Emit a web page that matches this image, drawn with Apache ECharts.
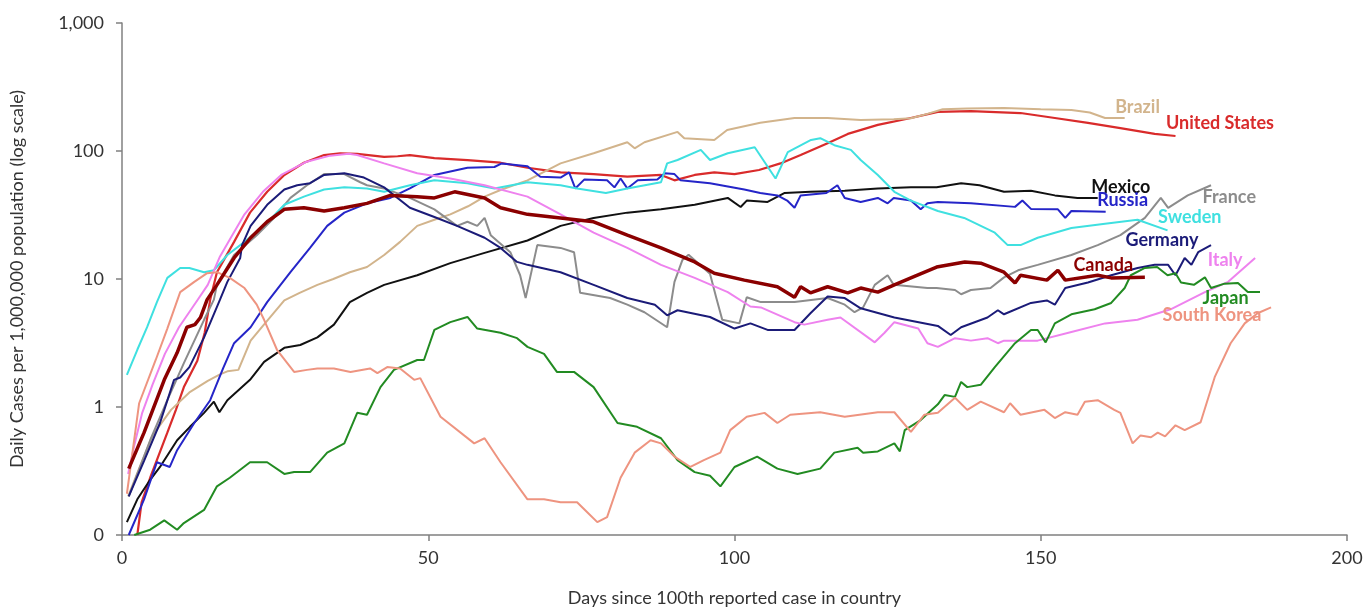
<!DOCTYPE html>
<html><head><meta charset="utf-8">
<script src="https://cdn.jsdelivr.net/npm/echarts@6/dist/echarts.min.js"></script>
<style>html,body{margin:0;padding:0;background:#fff}#c{width:1364px;height:609px}</style>
</head><body><div id="c"></div>
<script>
// ---- data ----
const xTicks = [0, 50, 100, 150, 200];
const yTickValues = [0.1, 1, 10, 100, 1000];
const yTickLabels = ['0', '1', '10', '100', '1,000'];

const countries = ['United States','Brazil','Mexico','Russia','France','Sweden','Germany','Canada','Italy','Japan','South Korea'];

const unitedStates = [[2.5,0.1],[3.2,0.18],[4.6,0.28],[6,0.42],[7.4,0.63],[8.8,0.95],[10.1,1.43],[12.3,2.3],[13.5,3.8],[14.4,6.9],[15.5,11.3],[18.3,19.5],[20.9,33],[23.7,48],[26.5,65],[29.7,81],[33,93],[35.6,96],[38.4,95],[42.8,90],[45,91],[47,93],[51,88],[56.4,85],[61.8,81],[66.2,74],[71.6,68],[77,66],[82.5,63],[88,65],[90.2,59],[93.5,65],[96.7,68],[100,66],[104,71],[107.5,80],[110.8,93],[115.2,115],[118.5,136],[123.4,160],[128.8,181],[133.2,202],[138.6,205],[146.7,198],[152.3,181],[157.7,166],[163,151],[168.6,136],[172,131]];

const brazil = [[1,0.2],[3,0.35],[5,0.6],[8,0.95],[11,1.3],[14,1.6],[16,1.8],[17.2,1.9],[19,1.95],[21,3.3],[23,4.3],[26.5,6.8],[29,7.8],[31.9,9.0],[34.5,10],[37.2,11.3],[40,12.4],[42.8,15.4],[45.4,19.5],[48.2,26],[51,29],[53.6,32],[56.5,37],[59.2,44],[62,50],[66.2,59],[71.6,80],[77,96],[82.5,117],[83.7,105],[85.3,117],[90.7,141],[91.8,126],[96.7,122],[98.8,146],[104.2,166],[109.8,181],[115.2,181],[120.6,175],[126,177],[128.8,180],[131.5,195],[134,212],[138,215],[144,217],[150,212],[155,209],[158,200],[160.5,181],[163.7,181]];

const mexico = [[0.8,0.126],[2.5,0.19],[4.6,0.27],[6.2,0.34],[9,0.55],[11.1,0.7],[13.4,0.9],[15,1.1],[15.9,0.91],[17.2,1.13],[20.9,1.63],[23.2,2.25],[26.5,2.9],[29.1,3.05],[31.9,3.5],[34.6,4.4],[37.2,6.6],[40,7.8],[42.8,9.0],[48.2,10.7],[53.6,13.3],[59.2,16],[66.2,20],[71.6,26],[77,30],[82.5,33],[88,35],[93.5,38],[98.9,43],[101,36.5],[102,41],[105.4,40],[108.2,47],[112.4,48],[118,49],[123.4,51],[128.8,52],[133,52],[137,56],[140,54],[144,48],[148.4,49],[152.3,45],[156,43],[159.3,43]];

const russia = [[1.1,0.1],[3.6,0.19],[5.7,0.37],[7.8,0.34],[9,0.46],[11.8,0.75],[14.4,1.13],[16.5,2.0],[18.3,3.15],[21,4.2],[23.7,6.6],[27.5,11.3],[30.7,17.5],[33.5,26],[36.3,33],[40,39],[43.8,43],[47,51],[51,65],[56.4,74],[60.8,75],[62,80],[66.2,76],[68.3,63],[71.6,62],[73,68],[74,51],[75.5,60],[79.2,59],[80.4,52],[81.4,61],[82.5,51],[84.2,59],[87.4,60],[88.6,67],[90.2,66],[91.2,59],[96,56],[101.6,50],[104.2,47],[107,45],[108.6,41],[109.8,36],[110.8,45],[115,47],[116.8,54],[118,43],[120.6,40],[123.4,43],[125,39],[126,43],[128.8,41],[130.4,35],[131.5,39],[133.2,40],[138.6,39],[145.8,36.6],[147,41],[148.4,35.3],[152.8,35],[154,30],[155,34],[160.6,33.5]];

const france = [[1.1,0.2],[4.6,0.55],[7.4,1.13],[10.1,2.2],[13.4,4.8],[15,6.9],[15.5,9],[18.3,15.4],[22,22],[24.8,30],[27.5,43],[30.2,54],[33,66],[36.3,66],[38.9,57],[40,54],[42.8,51],[47,43],[51,35],[54.7,26],[56.4,28],[58,26],[59.2,30],[60.2,22],[63.4,16.2],[65,10.7],[65.9,7.1],[67.8,18.4],[71.6,17.5],[73.8,16.2],[74.8,7.8],[79.7,7.1],[82.5,6.3],[85.3,5.5],[89,4.2],[90.2,9.5],[91.5,14.1],[92.5,15.5],[96,11],[97,7.2],[98,4.8],[100.8,4.5],[102,7.2],[104.3,6.6],[109.8,6.6],[115.2,7.1],[118,6.3],[119.6,5.5],[121,6.0],[122.9,9.0],[125,10.7],[126,9.0],[131.5,8.5],[133,8.5],[136,8.2],[137,7.6],[138.6,8.2],[141.8,8.5],[144,10.3],[146.3,11.7],[149.5,12.9],[155,15.4],[159.3,18.4],[163,22],[167,30],[169.6,43],[170.8,36],[174,45],[177.8,54]];

const sweden = [[0.8,1.78],[2.5,2.8],[4.1,4.2],[5.7,6.6],[7.4,10.2],[9.5,12.2],[11,12.2],[13.4,11.3],[15,11.7],[17.2,15.4],[20,19.5],[23.2,26],[26.5,38],[29.7,44],[33,50],[36.3,52],[40,51],[42.8,48],[47,54],[51,59],[56.4,56],[60.8,51],[66.2,57],[71.6,54],[74.3,51],[79,47],[82.5,51],[88,57],[89,80],[90.7,85],[94.5,102],[96,85],[98.9,96],[103.3,107],[106.7,61],[108.7,98],[112.5,122],[114,126],[116.3,111],[119,102],[120.6,85],[123.4,65],[126.1,48],[128.8,41],[133.2,34],[137.5,30],[142.5,23],[144.6,18.4],[146.7,18.4],[149.5,21],[155,25],[160.5,27],[165.8,29],[170.7,24]];

const germany = [[1.1,0.2],[3.6,0.38],[6.2,0.75],[8.5,1.63],[9.5,1.7],[11,2.05],[13.4,3.5],[16,6.9],[17.2,9.5],[19.3,14.6],[19.6,18.4],[21,26],[23.7,38],[26.5,50],[28.6,54],[30.7,56],[33,65],[36.3,67],[39.5,62],[42.8,52],[47,36],[51,30.5],[54.7,26],[59.2,21],[61.8,17.5],[64.5,13.6],[66.2,12.9],[71.6,11.3],[77,9.0],[82.5,7.1],[87,6.3],[89,5.2],[90.7,5.7],[96,5.05],[100,4.1],[102.6,4.5],[105.4,4.0],[109.8,4.0],[112.4,5.4],[115.2,7.3],[118,7.1],[120.6,5.9],[126.1,5.0],[133.2,4.3],[135.3,3.65],[137,4.2],[141.3,5.0],[143,5.7],[144,5.3],[148.4,6.5],[151,6.8],[152.3,6.3],[154,8.5],[157.7,9.4],[161.5,10.7],[165.8,12.2],[168.6,12.9],[170.8,12.9],[172,10.7],[173.5,14.6],[174.6,12.9],[175.7,16.2],[177.8,18.4]];

const canada = [[1.1,0.33],[3.6,0.63],[6.9,1.63],[9,2.65],[10.6,4.2],[11.9,4.4],[12.8,5.0],[13.9,6.9],[15.5,9.0],[18.3,14.6],[21,21],[23.7,28],[26.5,35],[29.7,36],[33,34],[36.3,36],[40,39],[43.8,45],[48.2,44],[51,43],[54.3,48],[59.2,43],[61.8,36],[66.2,32],[71.6,30],[77,28],[82.5,22],[88,17.5],[93.5,13.6],[96.7,11.1],[101.6,9.8],[107,8.7],[109.8,7.2],[110.8,8.7],[112.4,7.8],[115.2,8.7],[118.5,7.8],[120.6,8.5],[123.4,7.9],[126.1,9.0],[128.8,10.2],[133,12.4],[137.6,13.6],[140.2,13.3],[144,11.3],[145.8,9.3],[146.7,10.7],[151,9.8],[152.8,11.7],[154,9.8],[159.3,10.7],[161.5,10.2],[167,10.3]];

const italy = [[1,0.3],[2,0.5],[3.3,0.9],[5,1.5],[7,2.6],[9.3,4.2],[12,6.5],[14,9],[16,15],[18,22],[20,32],[23,48],[26,65],[30,82],[34,92],[37,95],[38.4,93],[42.8,80],[48.2,67],[53.6,61],[59.2,54],[66.2,44],[71.6,32],[77,23],[82.5,17.5],[88,12.9],[93.5,10.2],[98.9,7.9],[102.6,6.1],[104.3,6.0],[109.8,4.6],[111.4,4.4],[115.2,4.8],[117.3,5.0],[122.9,3.2],[124.5,3.8],[126.1,4.6],[130,4.1],[131.5,3.15],[133.2,2.95],[136,3.45],[138.6,3.3],[141.3,3.45],[143,3.15],[144,3.3],[149.5,3.3],[155,3.85],[160.5,4.5],[165.8,4.8],[171.2,5.8],[176.8,7.9],[180.6,9.5],[185,14.6]];

const japan = [[2,0.1],[4.6,0.11],[6.9,0.13],[9,0.11],[10.1,0.124],[13.4,0.157],[15.5,0.24],[17.6,0.28],[20.9,0.37],[23.7,0.37],[26.5,0.3],[28.1,0.31],[30.7,0.31],[33.5,0.44],[36.3,0.52],[38.4,0.9],[40,0.87],[42.2,1.43],[44.4,1.95],[48.2,2.33],[49.3,2.33],[51,4.0],[53.6,4.6],[56.4,5.05],[58,4.1],[61.8,3.8],[64.5,3.45],[66.2,2.95],[68.9,2.6],[71,1.88],[73.8,1.88],[77,1.43],[80.9,0.75],[84.1,0.7],[88,0.57],[90.7,0.385],[93.5,0.31],[96,0.29],[97.7,0.24],[100,0.34],[103.7,0.41],[107,0.33],[110.3,0.3],[114,0.33],[116.3,0.44],[120.1,0.48],[121,0.44],[123.4,0.45],[126.1,0.52],[127,0.45],[127.8,0.66],[130.4,0.79],[133.2,1.05],[134.3,1.24],[136,1.2],[137,1.57],[138,1.43],[140.2,1.49],[142.5,2.05],[145.8,3.15],[148.4,4.0],[149.5,4.0],[150.8,3.2],[152.3,4.5],[155,5.3],[158.8,5.8],[161.5,6.5],[163.7,8.5],[164.7,10.7],[167,12.2],[169,12.4],[170.7,10.7],[172,11.1],[172.9,9.4],[175,9.0],[176.8,10.3],[177.8,8.5],[180,9.2],[182.2,9.3],[183.8,7.9],[185.8,7.9]];

const southKorea = [[0.8,0.21],[2.8,1.07],[5.5,2.33],[7.4,4.1],[9.5,7.9],[11.8,9.5],[13.9,11.1],[15.5,11.3],[17.6,10.2],[20,8.5],[22,6.3],[23.2,4.8],[25.3,2.8],[28.1,1.88],[30.2,1.95],[31.9,2.0],[34.6,2.0],[37.3,1.88],[40.5,2.0],[41.7,1.84],[43.3,2.05],[45.4,2.0],[47.7,1.63],[48.7,1.68],[52,0.84],[57.5,0.52],[59.2,0.57],[61.8,0.37],[66.2,0.19],[68.9,0.19],[71.6,0.18],[74.3,0.18],[76,0.15],[77.6,0.126],[79.2,0.138],[81.4,0.28],[83.7,0.44],[86.3,0.55],[88,0.52],[90.2,0.41],[92.8,0.34],[95,0.385],[97.7,0.44],[99.3,0.66],[102,0.84],[104.9,0.9],[107,0.75],[109.1,0.87],[114,0.91],[118,0.84],[123.4,0.91],[126.1,0.91],[128.8,0.64],[131,0.87],[133.2,0.9],[136,1.18],[138,0.95],[140.2,1.1],[144,0.91],[145,1.07],[146.7,0.87],[150.6,0.95],[152.3,0.82],[154,0.91],[156,0.87],[157.2,1.1],[159.3,1.13],[162,0.95],[163,0.9],[165,0.52],[166.3,0.6],[168,0.58],[169.1,0.63],[170.3,0.59],[172,0.72],[173.5,0.66],[176.1,0.76],[178.4,1.71],[181,3.15],[183.3,4.5],[185.4,5.4],[187.6,6.0]];

const seriesValues = [unitedStates, brazil, mexico, russia, france, sweden, germany, canada, italy, japan, southKorea];

// ---- styles ----
const colors = ['#d92b2b','#d2b48c','#111111','#2525c8','#8c8c8c','#3fe0e0','#1b1b78','#8b0000','#ee82ee','#228b22','#ee9480'];
const widths = [2.2,2,2,2,2,2,2,3.5,2,2,2];
const labelOffsets = [[-10,-13],[-10,-11],[-7,-11],[-9,-12],[-9,12],[-10,-13],[-86,-5],[-72,-12],[-48,2],[-58,6],[-109,8]];
const FONT = 'Lato, "Open Sans", sans-serif';

const chart = echarts.init(document.getElementById('c'));
const series = countries.map((name, i) => {
  const d = seriesValues[i];
  return {
    name, type: 'line', data: d, showSymbol: false, symbol: 'none',
    lineStyle: { color: colors[i], width: widths[i] },
    itemStyle: { color: colors[i] },
    z: i === 7 ? 5 : 3,
    animation: false,
    markPoint: {
      symbol: 'circle', symbolSize: 1, silent: true,
      itemStyle: { color: 'rgba(0,0,0,0)' },
      label: {
        show: true, position: 'right', distance: 0, offset: labelOffsets[i],
        formatter: name, color: colors[i], fontWeight: 'bold', fontSize: 18, fontFamily: FONT
      },
      data: [{ coord: d[d.length - 1] }]
    }
  };
});

chart.setOption({
  animation: false,
  backgroundColor: '#fff',
  grid: { left: 122, right: 17, top: 23, bottom: 74, containLabel: false, outerBoundsMode: 'none' },
  xAxis: {
    type: 'value', min: xTicks[0], max: xTicks[xTicks.length - 1], interval: xTicks[1] - xTicks[0],
    axisLine: { show: true, lineStyle: { color: '#808080', width: 1.5 } },
    axisTick: { show: true, length: 6, lineStyle: { color: '#808080', width: 1.5 } },
    axisLabel: { fontSize: 18, color: '#333', margin: 14, fontFamily: FONT },
    splitLine: { show: false },
    name: 'Days since 100th reported case in country', nameLocation: 'middle', nameGap: 54,
    nameTextStyle: { fontSize: 18, color: '#333', fontFamily: FONT }
  },
  yAxis: {
    type: 'log', logBase: 10, min: yTickValues[0], max: yTickValues[yTickValues.length - 1],
    axisLine: { show: true, lineStyle: { color: '#808080', width: 1.5 } },
    axisTick: { show: true, length: 6, lineStyle: { color: '#808080', width: 1.5 } },
    minorTick: { show: false },
    axisLabel: {
      fontSize: 18, color: '#333', margin: 18, fontFamily: FONT,
      formatter: v => {
        let best = 0;
        yTickValues.forEach((t, k) => { if (Math.abs(Math.log10(t) - Math.log10(v)) < Math.abs(Math.log10(yTickValues[best]) - Math.log10(v))) best = k; });
        return yTickLabels[best];
      }
    },
    splitLine: { show: false },
    name: 'Daily Cases per 1,000,000 population (log scale)', nameLocation: 'middle', nameGap: 96,
    nameTextStyle: { fontSize: 18, color: '#333', fontFamily: FONT }
  },
  series
});
</script>
</body></html>
